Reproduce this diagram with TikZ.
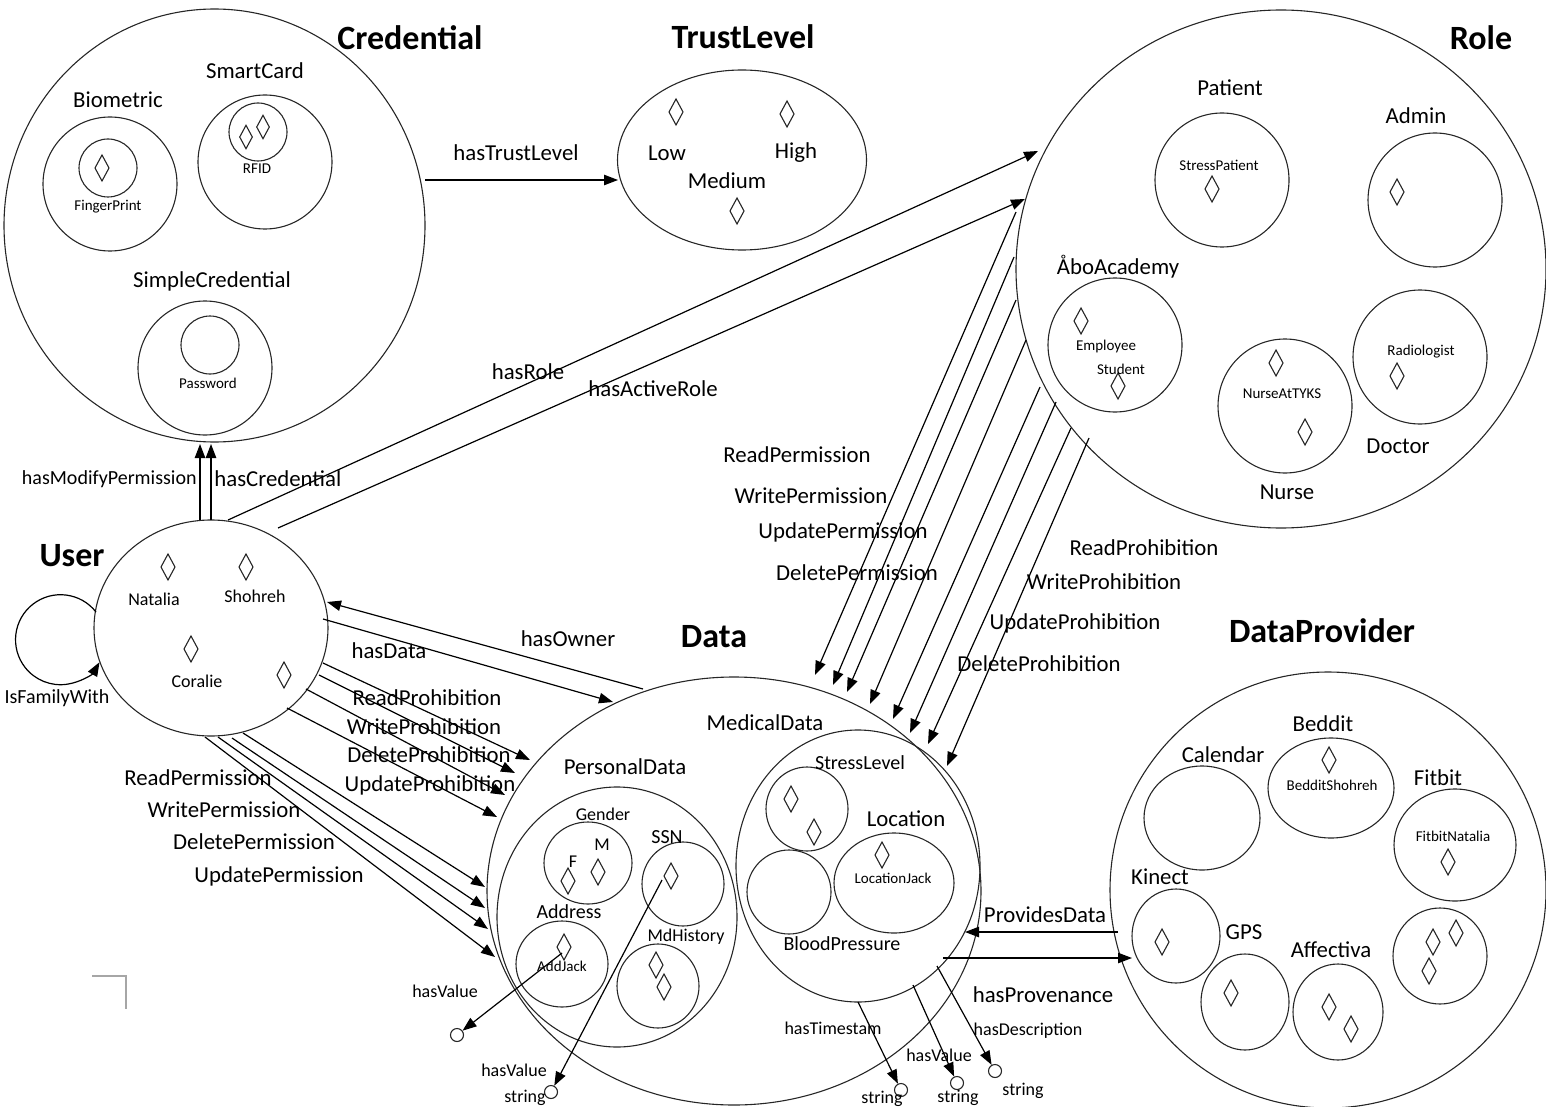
\documentclass[tikz,border=0pt]{standalone}
\usepackage{fontspec}
\setmainfont{Carlito}
\usetikzlibrary{arrows.meta}
\tikzset{
 circ/.style={draw=black!85, line width=0.55pt},
 arr/.style={-{Triangle[length=7pt,width=5.2pt]}, line width=0.6pt, black},
 ttl/.style={inner sep=0, font=\fontsize{17}{20}\selectfont\bfseries},
 lb/.style={inner sep=0, font=\fontsize{11.4}{13}\selectfont},
 md/.style={inner sep=0, font=\fontsize{10}{12}\selectfont},
 sn/.style={inner sep=0, font=\fontsize{9}{11}\selectfont},
 sm/.style={inner sep=0, font=\fontsize{7.5}{9}\selectfont},
 sc/.style={circle, draw=black!85, line width=0.55pt, minimum size=6.5pt, inner sep=0},
 dia/.pic={\draw[line width=0.55pt, black!85] (0,-13)--(7,0)--(0,13)--(-7,0)--cycle;}
}
\begin{document}
\begin{tikzpicture}[x=0.5pt,y=-0.5pt]
\useasboundingbox (0,0) rectangle (1546,1107);

% ---------------- Credential ----------------
\draw[circ] (214.5,225.5) ellipse[x radius=210.5, y radius=216.5];
\node[ttl] (tCred) at (410,38) {Credential};
\draw[circ] (110,184) circle[radius=67];
\draw[circ] (108,168) circle[radius=29];
\pic at (102,168) {dia};
\node[lb] (tBio) at (118,100) {Biometric};
\node[sm] (tFinger) at (108,207) {FingerPrint};
\draw[circ] (265,162) circle[radius=67];
\draw[circ] (258,132) circle[radius=29];
\pic[scale=0.9] at (246,137) {dia};
\pic[scale=0.9] at (263,127) {dia};
\node[lb] (tSmart) at (255,71) {SmartCard};
\node[sm] (tRFID) at (257,169) {RFID};
\draw[circ] (205,368) circle[radius=67];
\draw[circ] (210,345) circle[radius=29];
\node[lb] (tSimple) at (212,281) {SimpleCredential};
\node[sm] (tPass) at (208,383) {Password};

% ---------------- TrustLevel ----------------
\draw[circ] (742,160) ellipse[x radius=124.5, y radius=90];
\node[ttl] (tTrust) at (743,37) {TrustLevel};
\pic at (676,112) {dia};
\pic at (787,114) {dia};
\pic at (737,211) {dia};
\node[lb] (tLow) at (667,153) {Low};
\node[lb] (tHigh) at (796,153) {High};
\node[lb] (tMed) at (727,181) {Medium};

% ---------------- Role ----------------
\draw[circ] (1281,269) ellipse[x radius=265, y radius=259];
\node[ttl] (tRole) at (1481,38) {Role};
\draw[circ] (1222,180) circle[radius=67];
\node[lb] (tPatient) at (1230,88) {Patient};
\node[sm] (tStressP) at (1219,165) {StressPatient};
\pic at (1212,189) {dia};
\draw[circ] (1435,200) circle[radius=67];
\node[lb] (tAdmin) at (1416,116) {Admin};
\pic at (1397,192) {dia};
\draw[circ] (1115,345) circle[radius=67];
\node[lb] (tAbo) at (1118,267) {ÅboAcademy};
\pic at (1081,321) {dia};
\pic at (1118,386) {dia};
\node[sm] (tEmp) at (1106,346) {Employee};
\node[sm] (tStud) at (1121,369) {Student};
\draw[circ] (1285,406) circle[radius=67];
\node[sm] (tNurseT) at (1282,394) {NurseAtTYKS};
\pic at (1276,363) {dia};
\pic at (1305,432) {dia};
\node[lb] (tNurse) at (1287,492) {Nurse};
\draw[circ] (1420,357) circle[radius=67];
\node[sm] (tRadio) at (1421,352) {Radiologist};
\pic at (1397,376) {dia};
\node[lb] (tDoctor) at (1398,446) {Doctor};

% ---------------- User ----------------
\draw[circ] (211,628) ellipse[x radius=117, y radius=108];
\node[ttl] (tUser) at (72,556) {User};
\pic at (168,567) {dia};
\pic at (246,567) {dia};
\pic at (191,649) {dia};
\pic at (284,675) {dia};
\node[sn] (tNat) at (154,599) {Natalia};
\node[sn] (tSho) at (255,596) {Shohreh};
\node[sn] (tCor) at (197,681) {Coralie};
\node[md] (tFam) at (57,698) {IsFamilyWith};
\coordinate (loopA) at (96,612);
\draw[arr] (loopA) arc[start angle=-38, end angle=-330, radius=45];

% ---------------- Data ----------------
\draw[circ] (734,891) ellipse[x radius=247, y radius=214];
\node[ttl] (tData) at (714,637) {Data};
\draw[circ] (858,866) ellipse[x radius=122, y radius=136];
\node[lb] (tMedical) at (765,723) {MedicalData};
\draw[circ] (617,917) ellipse[x radius=120, y radius=130];
\node[lb] (tPersonal) at (625,767) {PersonalData};
\draw[circ] (588,863) ellipse[x radius=44, y radius=41];
\node[sn] (tGender) at (603,814) {Gender};
\node[sn] (tF) at (573,862) {F};
\node[sn] (tM) at (602,845) {M};
\pic at (568,881) {dia};
\pic at (598,872) {dia};
\draw[circ] (683,884) ellipse[x radius=41, y radius=42];
\node[md] (tSSN) at (667,837) {SSN};
\pic at (671,876) {dia};
\draw[circ] (562,964) ellipse[x radius=46, y radius=43];
\node[md] (tAddr) at (569,912) {Address};
\pic at (564,947) {dia};
\node[sm] (tAddJ) at (562,966) {AddJack};
\draw[circ] (658,986) ellipse[x radius=41, y radius=42];
\node[sn] (tMd) at (686,937) {MdHistory};
\pic at (656,965) {dia};
\pic at (664,987) {dia};
\draw[circ] (807,809) ellipse[x radius=41, y radius=42];
\node[md] (tStressL) at (860,763) {StressLevel};
\pic at (791,799) {dia};
\pic at (814,832) {dia};
\draw[circ] (789,892) ellipse[x radius=42, y radius=42];
\node[md] (tBlood) at (842,944) {BloodPressure};
\draw[circ] (894,883) ellipse[x radius=60, y radius=50];
\node[lb] (tLoc) at (906,819) {Location};
\pic at (882,855) {dia};
\node[sm] (tLocJ) at (893,878) {LocationJack};

% value circles
\node[sc] (s1) at (457,1035) {};
\node[sc] (s2) at (551,1092) {};
\node[sc] (s3) at (901,1090) {};
\node[sc] (s4) at (957,1083) {};
\node[sc] (s5) at (995,1071) {};
\coordinate (vA) at (562,953);
\coordinate (vB) at (662,880);
\coordinate (vC) at (858,1002);
\coordinate (vD) at (913,985);
\coordinate (vE) at (937,966);
\draw[arr] (vA) -- (s1);
\draw[arr] (vB) -- (s2);
\draw[arr] (vC) -- (s3);
\draw[arr] (vD) -- (s4);
\draw[arr] (vE) -- (s5);
\node[sn] (lv1) at (445,991) {hasValue};
\node[sn] (lv2) at (514,1070) {hasValue};
\node[sn] (ls2) at (525,1098) {string};
\node[sn] (lv3) at (833,1028) {hasTimestam};
\node[sn] (ls3) at (882,1099) {string};
\node[sn] (lv4) at (939,1055) {hasValue};
\node[sn] (ls4) at (958,1098) {string};
\node[sn] (lv5) at (1028,1031) {hasDescription};
\node[sn] (ls5) at (1023,1091) {string};

% ---------------- DataProvider ----------------
\draw[circ] (1328,890) ellipse[x radius=218, y radius=218];
\node[ttl] (tDP) at (1322,631) {DataProvider};
\draw[circ] (1202,818) ellipse[x radius=58, y radius=52];
\node[lb] (tCal) at (1223,755) {Calendar};
\draw[circ] (1331,788) ellipse[x radius=63, y radius=50];
\node[lb] (tBed) at (1323,724) {Beddit};
\pic at (1329,760) {dia};
\node[sm] (tBedS) at (1332,785) {BedditShohreh};
\draw[circ] (1455,845) ellipse[x radius=61, y radius=56];
\node[lb] (tFit) at (1438,778) {Fitbit};
\node[sm] (tFitN) at (1453,836) {FitbitNatalia};
\pic at (1448,862) {dia};
\draw[circ] (1176,936) ellipse[x radius=44, y radius=47];
\node[lb] (tKin) at (1160,877) {Kinect};
\pic at (1162,942) {dia};
\draw[circ] (1245,1002) ellipse[x radius=44, y radius=48];
\node[lb] (tGPS) at (1244,932) {GPS};
\pic at (1231,993) {dia};
\draw[circ] (1338,1012) ellipse[x radius=45, y radius=48];
\node[lb] (tAff) at (1331,950) {Affectiva};
\pic at (1329,1007) {dia};
\pic at (1351,1029) {dia};
\draw[circ] (1440,956) ellipse[x radius=47, y radius=48];
\pic at (1433,942) {dia};
\pic at (1456,933) {dia};
\pic at (1429,971) {dia};

% ---------------- connectors ----------------
% User -> Credential
\coordinate (uc1) at (200,520); \coordinate (cc1) at (200,444);
\coordinate (uc2) at (211,520); \coordinate (cc2) at (211,444);
\draw[arr] (uc1) -- (cc1);
\draw[arr] (uc2) -- (cc2);
\node[md, anchor=east] (lMod) at (197,479) {hasModifyPermission};
\node[lb, anchor=west] (lCred) at (214,479) {hasCredential};

% Credential -> TrustLevel
\coordinate (ct1) at (425,180); \coordinate (tt1) at (618,180);
\draw[arr] (ct1) -- (tt1);
\node[lb] (lTrust) at (516,153) {hasTrustLevel};

% User -> Role
\coordinate (ur1) at (228,520); \coordinate (rr1) at (1038,151);
\coordinate (ur2) at (278,528); \coordinate (rr2) at (1025,199);
\draw[arr] (ur1) -- (rr1);
\draw[arr] (ur2) -- (rr2);
\node[lb] (lRole) at (528,372) {hasRole};
\node[lb] (lARole) at (653,389) {hasActiveRole};

% Data <-> User
\coordinate (do1) at (643,689); \coordinate (uo1) at (327,602);
\coordinate (ud1) at (323,619); \coordinate (dd1) at (613,702);
\draw[arr] (do1) -- (uo1);
\draw[arr] (ud1) -- (dd1);
\node[lb] (lOwner) at (568,639) {hasOwner};
\node[lb] (lData) at (389,651) {hasData};

% User -> Data prohibitions
\coordinate (up1) at (323,663); \coordinate (dp1) at (530,760);
\coordinate (up2) at (319,675); \coordinate (dp2) at (515,773);
\coordinate (up3) at (306,689); \coordinate (dp3) at (505,795);
\coordinate (up4) at (287,708); \coordinate (dp4) at (497,817);
\draw[arr] (up1) -- (dp1);
\draw[arr] (up2) -- (dp2);
\draw[arr] (up3) -- (dp3);
\draw[arr] (up4) -- (dp4);
\node[lb] (lRP1) at (427,698) {ReadProhibition};
\node[lb] (lWP1) at (424,727) {WriteProhibition};
\node[lb] (lDP1) at (429,755) {DeleteProhibition};
\node[lb] (lUP1) at (430,785) {UpdateProhibition};

% User -> Data permissions
\coordinate (uq1) at (243,733); \coordinate (dq1) at (485,887);
\coordinate (uq2) at (232,738); \coordinate (dq2) at (485,908);
\coordinate (uq3) at (218,737); \coordinate (dq3) at (488,929);
\coordinate (uq4) at (205,737); \coordinate (dq4) at (495,957);
\draw[arr] (uq1) -- (dq1);
\draw[arr] (uq2) -- (dq2);
\draw[arr] (uq3) -- (dq3);
\draw[arr] (uq4) -- (dq4);
\node[lb] (lRPe1) at (198,778) {ReadPermission};
\node[lb] (lWPe1) at (224,810) {WritePermission};
\node[lb] (lDPe1) at (254,842) {DeletePermission};
\node[lb] (lUPe1) at (279,876) {UpdatePermission};

% Role -> Data
\coordinate (ro1) at (1016,212); \coordinate (rd1) at (815,675);
\coordinate (ro2) at (1014,257); \coordinate (rd2) at (833,685);
\coordinate (ro3) at (1016,300); \coordinate (rd3) at (847,692);
\coordinate (ro4) at (1026,340); \coordinate (rd4) at (870,704);
\coordinate (ro5) at (1040,387); \coordinate (rd5) at (893,719);
\coordinate (ro6) at (1056,402); \coordinate (rd6) at (910,733);
\coordinate (ro7) at (1071,428); \coordinate (rd7) at (928,744);
\coordinate (ro8) at (1089,438); \coordinate (rd8) at (947,766);
\foreach \i in {1,...,8} {\draw[arr] (ro\i) -- (rd\i);}
\node[lb] (lRPe2) at (797,455) {ReadPermission};
\node[lb] (lWPe2) at (811,496) {WritePermission};
\node[lb] (lUPe2) at (843,532) {UpdatePermission};
\node[lb] (lDPe2) at (857,573) {DeletePermission};
\node[lb] (lRP2) at (1144,548) {ReadProhibition};
\node[lb] (lWP2) at (1104,582) {WriteProhibition};
\node[lb] (lUP2) at (1075,623) {UpdateProhibition};
\node[lb] (lDP2) at (1039,664) {DeleteProhibition};

% DataProvider <-> Data
\coordinate (pv1) at (1118,932); \coordinate (pd1) at (965,932);
\coordinate (dv2) at (943,958); \coordinate (pv2) at (1132,958);
\draw[arr] (pv1) -- (pd1);
\draw[arr] (dv2) -- (pv2);
\node[lb] (lProv) at (1045,915) {ProvidesData};
\node[lb] (lProvn) at (1043,995) {hasProvenance};

% stray corner mark
\draw[black!35, line width=0.6pt] (92,976) -- (126,976) -- (126,1009);
\end{tikzpicture}
\end{document}
